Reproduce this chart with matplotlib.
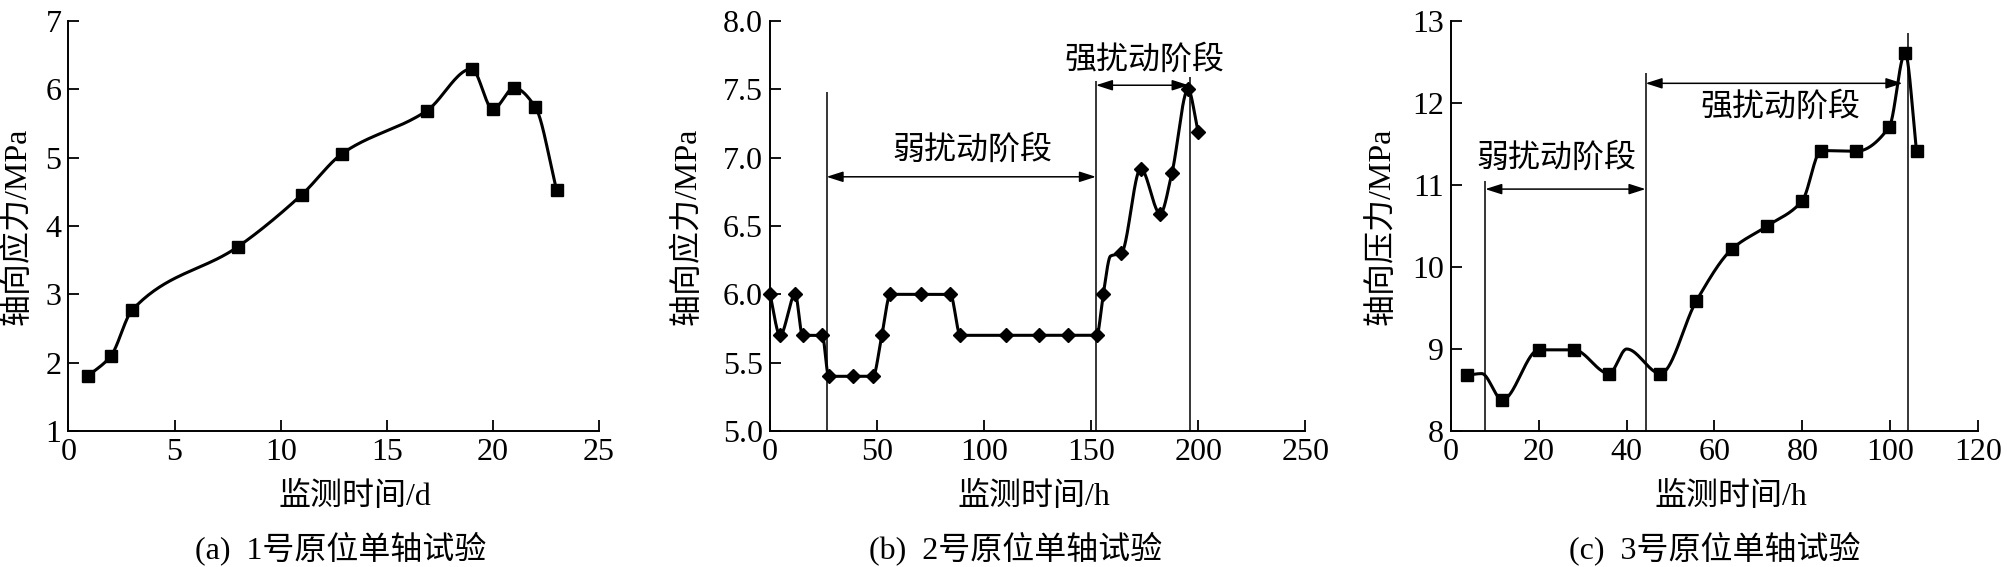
import numpy as np
import matplotlib
matplotlib.use("Agg")
import matplotlib.pyplot as plt

plt.rcParams['font.family'] = ['Liberation Serif', 'Noto Sans CJK SC']
plt.rcParams['axes.unicode_minus'] = False

# (a) test 1
x1 = [0.9, 2, 3, 8, 11, 12.9, 16.9, 19, 20, 21, 22, 23]
y1 = [1.8, 2.1, 2.77, 3.7, 4.46, 5.06, 5.69, 6.3, 5.71, 6.02, 5.74, 4.53]

# (b) test 2
x2 = [0, 4.7, 11.8, 15.2, 24.4, 27.4, 38.6, 48.1, 52.2, 56.2, 70.4, 84.2,
      88.9, 110, 125.4, 139, 152.6, 155.6, 164, 173.1, 182.2, 187.7, 195.2, 199.9]
y2 = [6.0, 5.7, 6.0, 5.7, 5.7, 5.4, 5.4, 5.4, 5.7, 6.0, 6.0, 6.0,
      5.7, 5.7, 5.7, 5.7, 5.7, 6.0, 6.3, 6.92, 6.59, 6.89, 7.5, 7.19]
x2_extra = [159]
y2_extra = [6.28]

# (c) test 3
x3 = [3.6, 11.7, 20, 28, 36, 47.7, 55.9, 64, 72, 80, 84.3, 92.2, 99.8, 103.4, 106]
y3 = [8.68, 8.38, 8.99, 8.99, 8.7, 8.7, 9.59, 10.22, 10.5, 10.81, 11.42, 11.41, 11.71, 12.61, 11.42]
x3_extra = [7, 40]
y3_extra = [8.7, 9.0]

# stage markers: vertical line positions / tops, arrows, labels
b_lines_x = [26.4, 152.2, 196]
b_lines_top = [7.48, 7.56, 7.59]
b_arrows = [(26.4, 152.2, 6.86), (152.2, 195.5, 7.53)]
b_labels = [(94.7, 7.05, '弱扰动阶段'), (175, 7.71, '强扰动阶段')]

c_lines_x = [7.8, 44.3, 104.1]
c_lines_top = [11.05, 12.37, 12.85]
c_arrows = [(7.8, 44.3, 10.95), (44.3, 102.8, 12.24)]
c_labels = [(24, 11.32, '弱扰动阶段'), (75, 11.95, '强扰动阶段')]


def pchip(x, y, n=40):
    x = np.asarray(x, float)
    y = np.asarray(y, float)
    h = np.diff(x)
    d = np.diff(y) / h
    m = np.zeros_like(y)
    m[0], m[-1] = d[0], d[-1]
    for k in range(1, len(x) - 1):
        if d[k - 1] * d[k] <= 0:
            m[k] = 0
        else:
            w1 = 2 * h[k] + h[k - 1]
            w2 = h[k] + 2 * h[k - 1]
            m[k] = (w1 + w2) / (w1 / d[k - 1] + w2 / d[k])
    xs, ys = [], []
    for k in range(len(x) - 1):
        t = np.linspace(0, 1, n)
        h00 = 2 * t**3 - 3 * t**2 + 1
        h10 = t**3 - 2 * t**2 + t
        h01 = -2 * t**3 + 3 * t**2
        h11 = t**3 - t**2
        xs.append(x[k] + t * h[k])
        ys.append(h00 * y[k] + h10 * h[k] * m[k] + h01 * y[k + 1] + h11 * h[k] * m[k + 1])
    return np.concatenate(xs), np.concatenate(ys)


def merged(x, y, xe, ye):
    xx = np.array(list(x) + list(xe))
    yy = np.array(list(y) + list(ye))
    order = np.argsort(xx)
    return xx[order], yy[order]


FS = 23
fig = plt.figure(figsize=(20.08, 5.67), dpi=100)
W, H = 2008, 567
top_px, bot_px = 21, 431
ax_a = fig.add_axes([68.5 / W, (H - bot_px) / H, 530.5 / W, (bot_px - top_px) / H])
ax_b = fig.add_axes([770 / W, (H - bot_px) / H, 535.4 / W, (bot_px - top_px) / H])
ax_c = fig.add_axes([1451 / W, (H - bot_px) / H, 527 / W, (bot_px - top_px) / H])


def style(ax, xlim, xticks, ylim, yticks, yfmt, xlabel, ylabel, caption, xl_x, yl_x, cap_x):
    for s in ['top', 'right']:
        ax.spines[s].set_visible(False)
    for s in ['left', 'bottom']:
        ax.spines[s].set_linewidth(1.4)
    ax.set_xlim(xlim)
    ax.set_ylim(ylim)
    ax.set_xticks(xticks)
    ax.set_yticks(yticks)
    ax.set_yticklabels([yfmt.format(v) for v in yticks])
    ax.tick_params(direction='in', length=8, width=1.3, labelsize=FS, pad=5)
    ax.text(xl_x, -0.161, xlabel, transform=ax.transAxes, ha='center', va='center', fontsize=FS)
    ax.text(cap_x, -0.285, caption, transform=ax.transAxes, ha='center', va='center', fontsize=FS)
    ax.text(yl_x, 0.5, ylabel, transform=ax.transAxes, ha='center', va='center',
            rotation=90, fontsize=FS)


# (a)
sx, sy = pchip(x1, y1)
ax_a.plot(sx, sy, color='k', lw=2.2)
ax_a.plot(x1, y1, 's', color='k', ms=9, clip_on=False)
style(ax_a, (0, 25), range(0, 26, 5), (1, 7), range(1, 8), '{:d}',
      '监测时间/d', '轴向应力/MPa', '(a)  1号原位单轴试验', 0.54, -0.097, 0.514)

# (b)
mx, my = merged(x2, y2, x2_extra, y2_extra)
sx, sy = pchip(mx, my)
ax_b.plot(sx, sy, color='k', lw=2.2, clip_on=False)
ax_b.plot(x2, y2, 'D', color='k', ms=7.5, clip_on=False)
ax_b.vlines(b_lines_x, 5.0, b_lines_top, color='k', lw=1.1)
for xa, xb, ya in b_arrows:
    ax_b.annotate('', xy=(xb, ya), xytext=(xa, ya),
                  arrowprops=dict(arrowstyle='<|-|>,head_length=0.5,head_width=0.16',
                                  color='k', lw=1.1, shrinkA=0, shrinkB=0, mutation_scale=20))
for xt, yt, t in b_labels:
    ax_b.text(xt, yt, t, ha='center', va='center', fontsize=FS)
style(ax_b, (0, 250), range(0, 251, 50), (5.0, 8.0), np.arange(5.0, 8.01, 0.5), '{:.1f}',
      '监测时间/h', '轴向应力/MPa', '(b)  2号原位单轴试验', 0.493, -0.155, 0.459)

# (c)
mx, my = merged(x3, y3, x3_extra, y3_extra)
sx, sy = pchip(mx, my)
ax_c.plot(sx, sy, color='k', lw=2.2)
ax_c.plot(x3, y3, 's', color='k', ms=9, clip_on=False)
ax_c.vlines(c_lines_x, 8, c_lines_top, color='k', lw=1.1, clip_on=False)
for xa, xb, ya in c_arrows:
    ax_c.annotate('', xy=(xb, ya), xytext=(xa, ya),
                  arrowprops=dict(arrowstyle='<|-|>,head_length=0.5,head_width=0.16',
                                  color='k', lw=1.1, shrinkA=0, shrinkB=0, mutation_scale=20))
for xt, yt, t in c_labels:
    ax_c.text(xt, yt, t, ha='center', va='center', fontsize=FS)
style(ax_c, (0, 120), range(0, 121, 20), (8, 13), range(8, 14), '{:d}',
      '监测时间/h', '轴向压力/MPa', '(c)  3号原位单轴试验', 0.531, -0.132, 0.501)

fig.savefig('out.png', dpi=100)
